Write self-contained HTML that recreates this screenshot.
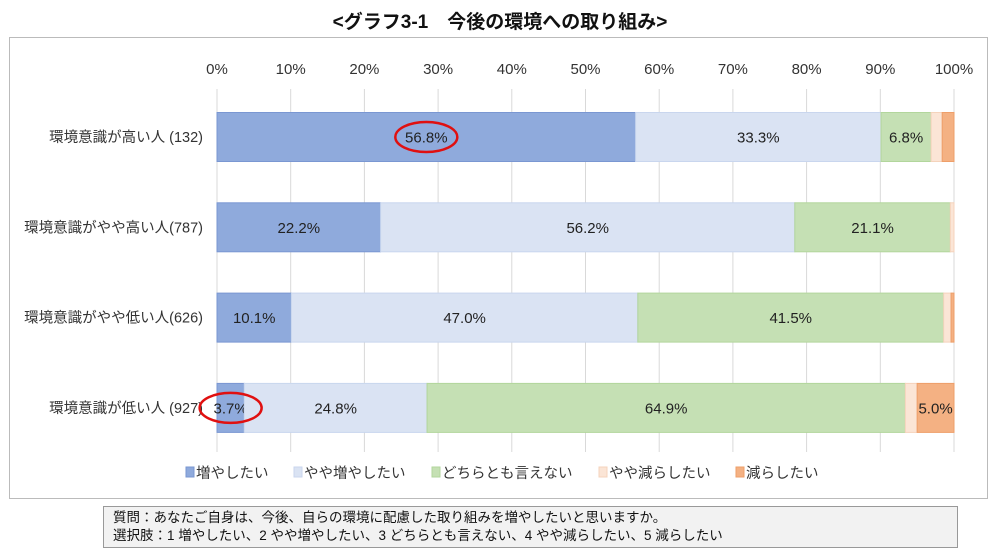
<!DOCTYPE html>
<html><head><meta charset="utf-8">
<style>
body{margin:0;width:1000px;height:555px;background:#fff;font-family:"Liberation Sans","Noto Sans CJK JP",sans-serif;position:relative;overflow:hidden}
#title{position:absolute;top:7px;left:0;width:1000px;text-align:center;font-size:19px;font-weight:bold;color:#111}
#frame{position:absolute;left:9px;top:37px;width:979px;height:462px;border:1px solid #bbb;box-sizing:border-box}
#note{position:absolute;left:103px;top:506px;width:855px;height:42px;border:1px solid #999;background:#f2f2f2;box-sizing:border-box;font-size:13.5px;line-height:18px;padding:2px 0 0 9px;color:#111;white-space:nowrap}
svg{position:absolute;left:0;top:0}
</style></head><body>
<div id="title">&lt;グラフ3-1　今後の環境への取り組み&gt;</div>
<div id="frame"></div>
<svg id="chart" width="1000" height="555"></svg>
<div id="note">質問：あなたご自身は、今後、自らの環境に配慮した取り組みを増やしたいと思いますか。<br>選択肢：1 増やしたい、2 やや増やしたい、3 どちらとも言えない、4 やや減らしたい、5 減らしたい</div>
<script>
const categories=["環境意識が高い人 (132)","環境意識がやや高い人(787)","環境意識がやや低い人(626)","環境意識が低い人 (927)"];
const seriesNames=["増やしたい","やや増やしたい","どちらとも言えない","やや減らしたい","減らしたい"];
const s1=[56.8,22.2,10.1,3.7];
const s2=[33.3,56.2,47.0,24.8];
const s3=[6.8,21.1,41.5,64.9];
const s4=[1.5,0.5,1.0,1.6];
const s5=[1.6,0.0,0.4,5.0];
const ticks=[0,10,20,30,40,50,60,70,80,90,100];
const highlighted=[[0,0],[3,0]];
const series=[s1,s2,s3,s4,s5];
const fills=["#8FAADC","#DAE3F3","#C5E0B4","#FBE5D6","#F4B183"];
const strokes=["#7A97D2","#C9D6EE","#B2D69C","#F5D3BC","#EE9F6A"];
const NS="http://www.w3.org/2000/svg";
const svg=document.getElementById('chart');
const x=v=>217+v*(954-217)/100;
const yc=i=>137+i*90.3;
const bh=49;
function mk(t,a,p){const e=document.createElementNS(NS,t);for(const k in a)e.setAttribute(k,a[k]);(p||svg).appendChild(e);return e;}
ticks.forEach(t=>{
 const l=mk('line',{x1:x(t),x2:x(t),y1:89,y2:452,stroke:'#d9d9d9','stroke-width':1});
 
 
 const tx=mk('text',{x:x(t),y:74,'text-anchor':'middle','font-size':15,fill:'#333'});
 tx.textContent=t+'%';
 
 
});
categories.forEach((c,i)=>{
 const tx=mk('text',{x:203,y:yc(i)+5,'text-anchor':'end','font-size':14.5,fill:'#333'});
 tx.textContent=c;
 
 
 let cum=0;
 series.forEach((s,j)=>{
  const v=s[i];
  const r=mk('rect',{x:x(cum),y:yc(i)-bh/2,width:Math.max(0,x(cum+v)-x(cum)),height:bh,fill:fills[j],stroke:strokes[j],'stroke-width':1});
  
  
  if(v>=3){
   const t=mk('text',{x:(x(cum)+x(cum+v))/2,y:yc(i)+5.5,'text-anchor':'middle','font-size':15,fill:'#222'});
   t.textContent=v.toFixed(1)+'%';
   
   
  }
  cum+=v;
 });
});
highlighted.forEach(([i,j])=>{
 let cum=0;for(let k=0;k<j;k++)cum+=series[k][i];
 const v=series[j][i];
 const cx=(x(cum)+x(cum+v))/2;
 const e=mk('ellipse',{cx:cx,cy:yc(i),rx:31,ry:15,fill:'none',stroke:'#e01010','stroke-width':2.5});
 
 
});
const lx=[186,294,432,599,736];
seriesNames.forEach((n,j)=>{
 const g=mk('g',{});
 
 
 mk('rect',{x:lx[j],y:467,width:8,height:10,fill:fills[j],stroke:strokes[j]},g);
 const t=mk('text',{x:lx[j]+10,y:478,'font-size':14.5,fill:'#333'},g);
 t.textContent=n;
});
</script>
</body></html>
